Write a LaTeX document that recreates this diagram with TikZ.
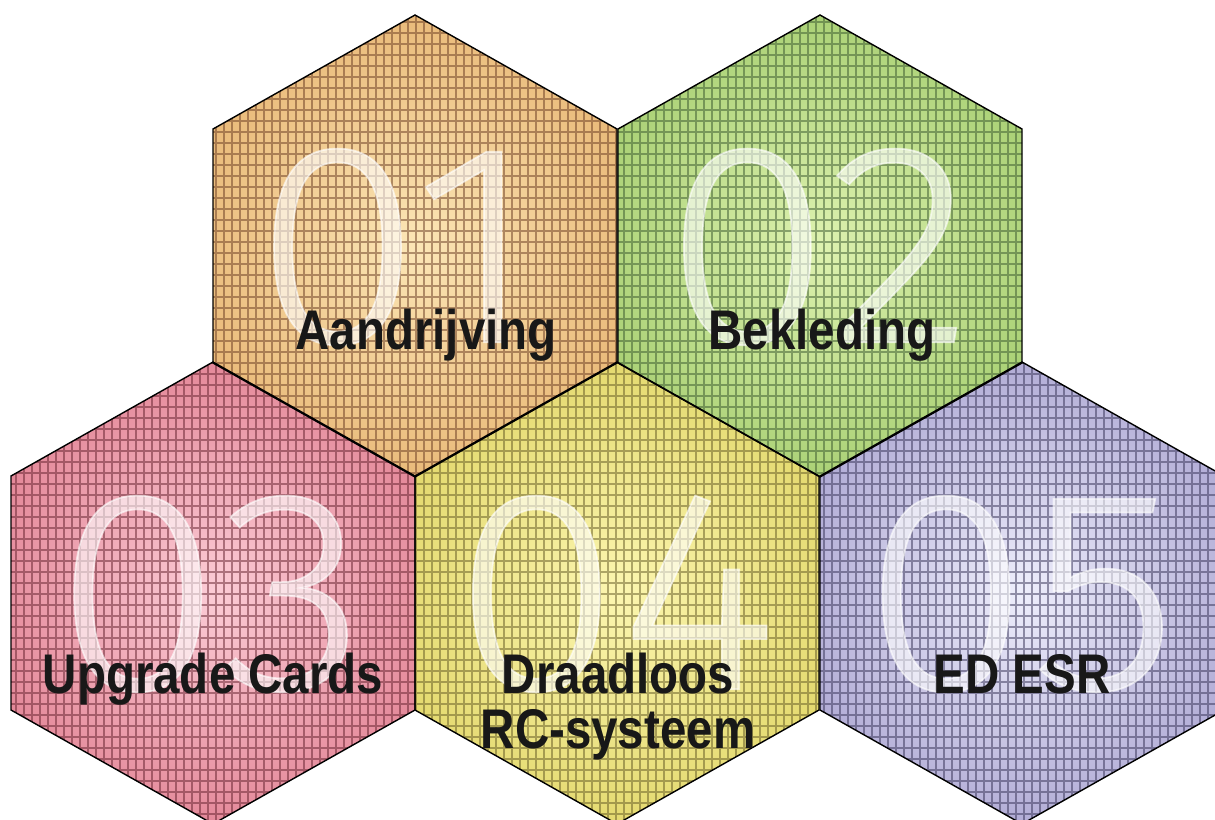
\documentclass[tikz,border=0pt]{standalone}
\usepackage{fontspec}
\usepackage{tikz}
\usetikzlibrary{positioning}

\newfontfamily\labelfont{Liberation Sans}[FakeStretch=0.85]
\newfontfamily\numfont{Fira Sans Light}[FakeStretch=1.06, FakeBold=0.6]

% cell colours: base, light centre, grid lines
\definecolor{orangebase}{RGB}{218,150,72}
\definecolor{orangelight}{RGB}{252,230,182}
\definecolor{orangeline}{RGB}{104,58,34}
\definecolor{greenbase}{RGB}{128,182,70}
\definecolor{greenlight}{RGB}{222,242,176}
\definecolor{greenline}{RGB}{56,86,46}
\definecolor{pinkbase}{RGB}{208,82,104}
\definecolor{pinklight}{RGB}{252,204,214}
\definecolor{pinkline}{RGB}{98,32,44}
\definecolor{yellowbase}{RGB}{208,194,58}
\definecolor{yellowlight}{RGB}{252,246,176}
\definecolor{yellowline}{RGB}{98,88,36}
\definecolor{lilacbase}{RGB}{128,118,182}
\definecolor{lilaclight}{RGB}{238,238,252}
\definecolor{lilacline}{RGB}{52,48,84}
\definecolor{labelink}{RGB}{24,24,24}

\begin{document}
\begin{tikzpicture}[
        x=0.2mm, y=-0.2mm,
        border/.style={draw=black, line width=0.8pt, line join=miter},
        gridline/.style={line width=1.5pt, opacity=0.5},
        numtext/.style={text=white, text opacity=0.6, inner sep=0pt,
            font=\numfont\fontsize{163}{163}\selectfont},
        label/.style={text=labelink, inner sep=0pt, anchor=base, align=center,
            font=\labelfont\bfseries\fontsize{31.8}{31.3}\selectfont}
    ]
        \clip (0,0) rectangle (1215,819);
        % Cells: fill, glow and grid
        \foreach \cx/\cy/\col in {415/246/orange, 820/246/green, 213/593/pink, 617/593/yellow, 1022/593/lilac} {
            \begin{scope}
                \clip (\cx,\cy-231) -- (\cx+202,\cy-117) -- (\cx+202,\cy+117) -- (\cx,\cy+231)
                    -- (\cx-202,\cy+117) -- (\cx-202,\cy-117) -- cycle;
                \shade[inner color=\col light, outer color=\col base] (\cx,\cy) circle (420);
                \draw[gridline, color=\col line] (\cx-212,\cy-242) grid[xstep=1.6mm, ystep=2.2mm] (\cx+212,\cy+242);
            \end{scope}
        }
        % Cell borders
        \foreach \cx/\cy in {415/246, 820/246, 213/593, 617/593, 1022/593} {
            \draw[border] (\cx,\cy-231) -- (\cx+202,\cy-117) -- (\cx+202,\cy+117) -- (\cx,\cy+231)
                -- (\cx-202,\cy+117) -- (\cx-202,\cy-117) -- cycle;
        }
        % Numbers
        \node[numtext] (num01) at (396,247) {01};
        \node[numtext] (num02) at (818,247) {02};
        \node[numtext] (num03) at (210,594) {03};
        \node[numtext] (num04) at (615,594) {04};
        \node[numtext] (num05) at (1020,594) {05};
        % Labels
        \node[label] (lab01) at (426,349) {Aandrijving};
        \node[label] (lab02) at (822,349) {Bekleding};
        \node[label] (lab03) at (213,693) {Upgrade Cards};
        \node[label] (lab04) at (618,748) {Draadloos\\RC-systeem};
        \node[label] (lab05) at (1022,693) {ED ESR};
    \end{tikzpicture}
\end{document}
